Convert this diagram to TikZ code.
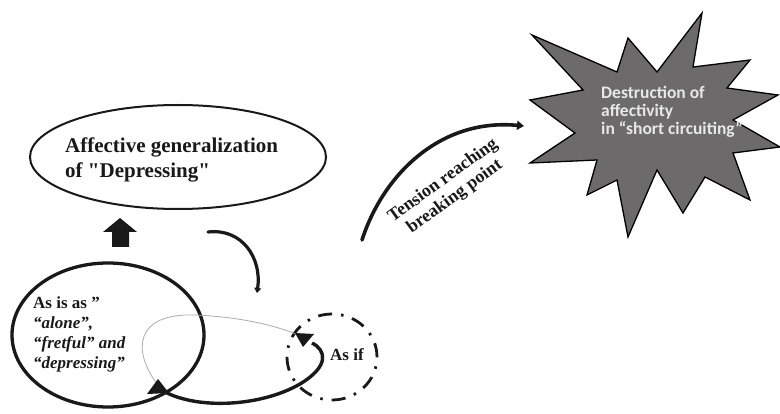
\documentclass[tikz,border=0pt]{standalone}
\usepackage{fontspec}
\setmainfont{Liberation Serif}[Ligatures=TeXOff]
\newfontfamily\starfont{Carlito}
\usetikzlibrary{shapes.geometric,arrows.meta}

\definecolor{burstgray}{RGB}{108,106,106}
\definecolor{burstink}{RGB}{232,232,232}
\definecolor{ink}{RGB}{25,25,25}

\begin{document}
\begin{tikzpicture}[x=1pt,y=-1pt,
  ring/.style={draw=ink, ellipse, inner sep=0pt},
  serifbold/.style={font=\bfseries\fontsize{17}{20}\selectfont, text=ink, inner sep=0pt},
  bendarrow/.style={draw=ink, line width=3.4pt},
  thinloop/.style={draw=gray!65, line width=0.8pt}]

\useasboundingbox (0,0) rectangle (780,414);
\fill[white] (0,0) rectangle (780,414);

% --- upper ellipse: affective generalization ---
\node[ring, line width=2pt, minimum width=296pt, minimum height=104pt] (gen) at (178,157) {};
\node[font=\bfseries\fontsize{21}{25}\selectfont, text=ink, inner sep=0pt,
      align=left, anchor=north west] (gentext) at (65,137.5)
  {Affective generalization\\of "Depressing"};

% --- block arrow pointing up to the ellipse ---
\coordinate (uptip) at (120,218);
\fill[ink] (uptip) -- (137,232) -- (129,232) -- (129,247) -- (112,247) -- (112,232) -- (103,232) -- cycle;

% --- bent arrow turning down ---
\coordinate (bendA) at (208,232);
\coordinate (bendB) at (257,293);
\draw[ink, line width=3.2pt, line cap=round, -{Triangle[length=5pt,width=7pt]}]
  (bendA) .. controls (242,228) and (262,258) .. (bendB);

% --- lower-left ring ---
\node[ring, line width=3.3pt, minimum width=192pt, minimum height=144pt] (asis) at (108,335) {};
\node[serifbold, align=left, anchor=north west] (asistext) at (33,297)
  {As is as ”\\\textit{“alone”,}\\\textit{“fretful” and}\\\textit{“depressing”}};

% --- dash-dotted ring: as if ---
\node[ring, line width=2.8pt, minimum width=90pt, minimum height=86pt,
      dash pattern=on 14pt off 9pt on 2.5pt off 9pt] (asif) at (332,357) {};
\node[serifbold, anchor=base west] (asiftext) at (330,360) {As if};

% --- loop between the two rings ---
\coordinate (loopL) at (157,384);
\coordinate (loopR) at (301,336);
\coordinate (thickL) at (165,392);
\coordinate (thickR) at (312,343);
\draw[thinloop] (loopL) .. controls (132,350) and (135,313) .. (195,315)
  .. controls (240,317) and (275,325) .. (loopR);
\draw[bendarrow] (thickL) .. controls (200,410) and (262,406) .. (300,384)
  .. controls (330,366) and (326,350) .. (thickR);
\fill[ink] (158,379) -- (169,393) -- (147,394) -- cycle;
\fill[ink] (295,333) -- (314,334) -- (303,347) -- cycle;

% --- arrow: tension reaching breaking point ---
\coordinate (tensA) at (362,240);
\coordinate (tensB) at (524,126);
\draw[ink, line width=3.6pt, line cap=round, -{Triangle[length=7pt,width=9pt]}]
  (tensA) .. controls (383,175) and (440,118) .. (tensB);
\node[font=\bfseries\fontsize{18}{20}\selectfont, text=ink, inner sep=0pt,
      align=center, rotate=36] (tension) at (449,189)
  {Tension reaching\\breaking point};

% --- burst: destruction of affectivity ---
\filldraw[fill=burstgray, draw=black, line width=1.3pt, line join=miter]
  (532,35) -- (617,72) -- (628,38) -- (657,72) -- (702,13) -- (693,67)
  -- (750,60) -- (727,88) -- (778,95) -- (733,120) -- (780,147) -- (733,153)
  -- (750,200) -- (705,177) -- (683,213) -- (657,170) -- (628,237) -- (617,180)
  -- (587,195) -- (597,160) -- (530,163) -- (575,133) -- (530,100) -- (583,90) -- cycle;
\node[font=\starfont\bfseries\fontsize{17.5}{18}\selectfont, text=burstink, inner sep=0pt,
      align=left, anchor=north west] (burst) at (601,86)
  {Destruction of\\affectivity\\in “short circuiting”};

\end{tikzpicture}
\end{document}
